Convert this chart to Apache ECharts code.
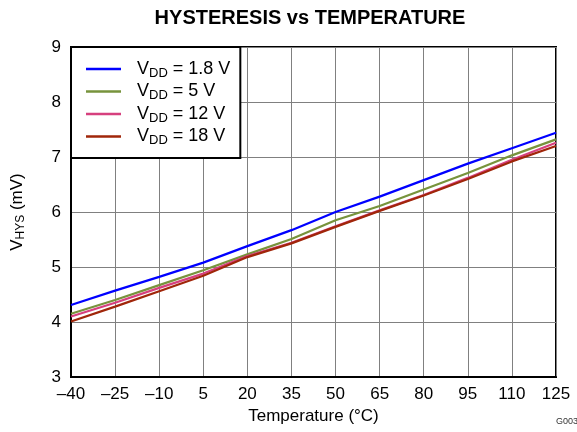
<!DOCTYPE html>
<html>
<head>
<meta charset="utf-8">
<script src="https://cdn.jsdelivr.net/npm/echarts@6/dist/echarts.min.js"></script>
<style>
html,body{margin:0;padding:0;background:#fff;}
#chart{width:577px;height:432px;}
</style>
</head>
<body>
<div id="chart"></div>
<script>
// Data
var temperatures = [-40, -25, -10, 5, 20, 35, 50, 65, 80, 95, 110, 125];
var vdd18 = [4.31, 4.57, 4.82, 5.08, 5.38, 5.67, 6.00, 6.28, 6.58, 6.88, 7.16, 7.44];
var vdd5  = [4.15, 4.40, 4.67, 4.94, 5.23, 5.51, 5.85, 6.11, 6.41, 6.71, 7.03, 7.32];
var vdd12 = [4.10, 4.35, 4.62, 4.88, 5.20, 5.44, 5.74, 6.03, 6.31, 6.62, 6.95, 7.26];
var vdd18v = [4.01, 4.28, 4.56, 4.84, 5.18, 5.43, 5.73, 6.02, 6.30, 6.60, 6.92, 7.20];
var seriesLabels = ['1.8 V', '5 V', '12 V', '18 V'];
var seriesValues = [vdd18, vdd5, vdd12, vdd18v];
var seriesColors = ['#0000FF', '#77933C', '#D6407E', '#A0260A'];
var xTicks = {min: -40, max: 125, interval: 15};
var yTicks = {min: 3, max: 9, interval: 1};
var titleText = 'HYSTERESIS vs TEMPERATURE';
var xName = 'Temperature (°C)';

var FONT = '"Liberation Sans", Arial, Helvetica, sans-serif';

function pairs(ys) {
  return temperatures.map(function (t, i) { return [t, ys[i]]; });
}

var series = seriesLabels.map(function (lab, i) {
  return {
    name: 'VDD = ' + lab,
    type: 'line',
    data: pairs(seriesValues[i]),
    showSymbol: false,
    symbol: 'none',
    smooth: false,
    lineStyle: {color: seriesColors[i], width: 2.2},
    itemStyle: {color: seriesColors[i]},
    z: 3 + i,
    animation: false
  };
});

var chart = echarts.init(document.getElementById('chart'), null, {renderer: 'canvas'});
chart.setOption({
  animation: false,
  backgroundColor: '#fff',
  textStyle: {fontFamily: FONT},
  grid: {
    left: 71, right: 21, top: 47, bottom: 55,
    show: true, borderColor: '#000', borderWidth: 2,
    containLabel: false
  },
  legend: {
    orient: 'vertical',
    left: 71, top: 47,
    backgroundColor: '#fff',
    borderColor: '#000',
    borderWidth: 2,
    borderRadius: 0,
    padding: [13, 10, 11, 15],
    itemGap: 3,
    itemWidth: 35,
    itemHeight: 2.5,
    icon: 'rect',
    data: series.map(function (s) { return s.name; }),
    formatter: function (name) {
      var rest = name.replace('VDD', '');
      return '{v|V}{s|DD}{v|' + rest + '}';
    },
    textStyle: {
      fontFamily: FONT,
      color: '#000',
      padding: [0, 0, 0, 11],
      rich: {
        v: {fontSize: 18, fontFamily: FONT, color: '#000', lineHeight: 21, verticalAlign: 'middle'},
        s: {fontSize: 13, fontFamily: FONT, color: '#000', lineHeight: 13, verticalAlign: 'bottom'}
      }
    },
    z: 10
  },
  xAxis: {
    type: 'value',
    min: xTicks.min, max: xTicks.max, interval: xTicks.interval,
    name: xName,
    nameLocation: 'middle',
    nameGap: 31,
    nameTextStyle: {fontSize: 17, color: '#000', fontFamily: FONT, verticalAlign: 'top'},
    axisLine: {show: true, onZero: false, lineStyle: {color: '#000', width: 2}},
    axisTick: {show: false},
    axisLabel: {
      fontSize: 17, color: '#000', fontFamily: FONT, margin: 9,
      formatter: function (v) { return String(v).replace('-', '\u2013'); }
    },
    splitLine: {show: true, lineStyle: {color: '#808080', width: 1}}
  },
  yAxis: {
    type: 'value',
    min: yTicks.min, max: yTicks.max, interval: yTicks.interval,
    name: '{v|V}{s|HYS}{v| (mV)}',
    nameLocation: 'middle',
    nameGap: 44,
    nameRotate: 90,
    nameTextStyle: {
      color: '#000', fontFamily: FONT,
      rich: {
        v: {fontSize: 17, fontFamily: FONT, color: '#000', lineHeight: 20, verticalAlign: 'middle'},
        s: {fontSize: 12, fontFamily: FONT, color: '#000', lineHeight: 12, verticalAlign: 'bottom'}
      }
    },
    axisLine: {show: true, onZero: false, lineStyle: {color: '#000', width: 2}},
    axisTick: {show: false},
    axisLabel: {fontSize: 17, color: '#000', fontFamily: FONT, margin: 10},
    splitLine: {show: true, lineStyle: {color: '#808080', width: 1}}
  },
  graphic: [
    {
      type: 'text', x: 310, y: 18,
      style: {text: titleText, font: 'bold 20px ' + FONT, fill: '#000', textAlign: 'center', textVerticalAlign: 'middle'}
    },
    {
      type: 'text', x: 556, y: 422,
      style: {text: 'G003', font: '9px ' + FONT, fill: '#333', textAlign: 'left', textVerticalAlign: 'middle'}
    }
  ],
  series: series
});
</script>
</body>
</html>
